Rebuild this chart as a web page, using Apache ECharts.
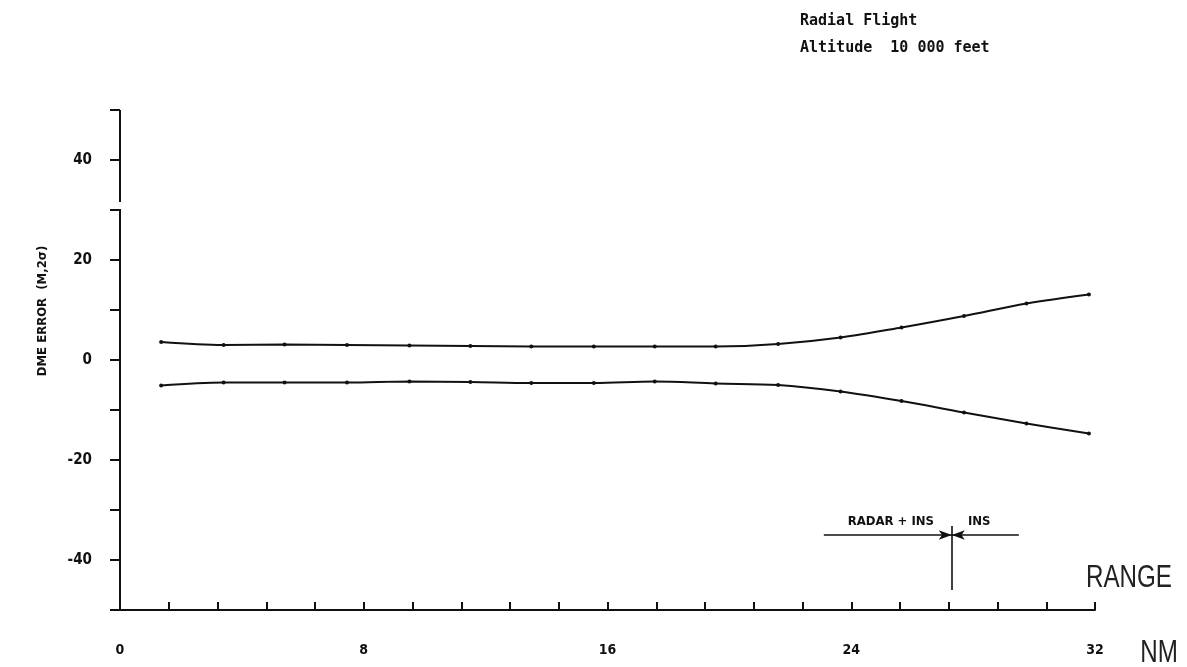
<!DOCTYPE html>
<html>
<head>
<meta charset="utf-8">
<script src="https://cdn.jsdelivr.net/npm/echarts@6/dist/echarts.min.js"></script>
<style>
html,body{margin:0;padding:0;background:#fff;}
#chart{width:1187px;height:667px;}
</style>
</head>
<body>
<div id="chart"></div>
<script>
// ---- data ----
const rangeNM    = [1.35, 3.4, 5.4, 7.45, 9.5, 11.5, 13.5, 15.55, 17.55, 19.55, 21.6, 23.65, 25.65, 27.7, 29.75, 31.8];
const upperError = [3.6, 3.0, 3.1, 3.0, 2.9, 2.8, 2.7, 2.7, 2.7, 2.7, 3.2, 4.5, 6.5, 8.8, 11.3, 13.1];
const lowerError = [-5.1, -4.5, -4.5, -4.5, -4.3, -4.4, -4.6, -4.6, -4.3, -4.7, -5.0, -6.3, -8.2, -10.5, -12.7, -14.7];
const xTickLabels = [0, 8, 16, 24, 32];
const yTickLabels = [-40, -20, 0, 20, 40];
const titleLines = ['Radial Flight', 'Altitude  10 000 feet'];
const yAxisTitle = 'DME ERROR  (M,2σ)';
const switchLabels = ['RADAR + INS', 'INS'];
const switchRange = 27.3;     // NM where RADAR+INS switches to INS
const switchSpan = [23.1, 29.5];
const switchLevel = -35;

const chart = echarts.init(document.getElementById('chart'), null, {renderer: 'canvas'});
const black = '#111';
const zip = (xs, ys) => xs.map((x, i) => [x, ys[i]]);
const smallLabel = {show: true, color: black, fontSize: 13, fontWeight: 'bold', fontFamily: 'DejaVu Sans Condensed', position: 'inside'};

const option = {
  backgroundColor: '#fff',
  animation: false,
  grid: {left: 120, right: 92, top: 110, bottom: 57, containLabel: false},
  xAxis: {
    type: 'value', min: 0, max: 32, interval: 1.6,
    axisLine: {onZero: false, lineStyle: {color: black, width: 2}},
    axisTick: {inside: true, length: 8, lineStyle: {color: black, width: 2}},
    splitLine: {show: false},
    axisLabel: {
      margin: 33, color: black, fontSize: 14, fontWeight: 'bold',
      fontFamily: 'DejaVu Sans Condensed',
      formatter: v => { const r = Math.round(v * 1000) / 1000; return xTickLabels.includes(r) ? String(r) : ''; }
    }
  },
  yAxis: {
    type: 'value', min: -50, max: 50, interval: 10,
    axisLine: {show: false, onZero: false},
    axisTick: {show: true, inside: false, length: 10, lineStyle: {color: black, width: 2}},
    splitLine: {show: false},
    axisLabel: {
      margin: 28, color: black, fontSize: 15, fontWeight: 'bold',
      fontFamily: 'DejaVu Sans Condensed',
      formatter: v => yTickLabels.includes(v) ? String(v) : ''
    }
  },
  series: [
    {
      type: 'line', data: zip(rangeNM, upperError), smooth: 0.35,
      symbol: 'circle', symbolSize: 4, itemStyle: {color: black},
      lineStyle: {color: black, width: 2},
      markLine: {
        silent: true, symbol: 'none', animation: false,
        lineStyle: {color: black, width: 2, type: 'solid'}, label: {show: false},
        data: [
          [{coord: [0, 50]}, {coord: [0, 31.6]}],
          [{coord: [0, 30.2]}, {coord: [0, -50]}]
        ]
      }
    },
    {
      type: 'line', data: zip(rangeNM, lowerError), smooth: 0.35,
      symbol: 'circle', symbolSize: 4, itemStyle: {color: black},
      lineStyle: {color: black, width: 2},
      markLine: {
        silent: true, animation: false,
        lineStyle: {color: black, width: 1.6, type: 'solid'}, label: {show: false},
        data: [
          [{coord: [switchSpan[0], switchLevel], symbol: 'none'}, {coord: [switchRange, switchLevel], symbol: 'arrow', symbolSize: [7, 13]}],
          [{coord: [switchSpan[1], switchLevel], symbol: 'none'}, {coord: [switchRange, switchLevel], symbol: 'arrow', symbolSize: [7, 13]}],
          [{coord: [switchRange, -33.2], symbol: 'none'}, {coord: [switchRange, -46], symbol: 'none'}]
        ]
      },
      markPoint: {
        silent: true, animation: false, symbol: 'rect', symbolSize: 1,
        itemStyle: {color: 'rgba(0,0,0,0)'},
        data: [
          {coord: [25.3, -32.3], label: Object.assign({}, smallLabel, {formatter: switchLabels[0]})},
          {coord: [28.2, -32.3], label: Object.assign({}, smallLabel, {formatter: switchLabels[1]})}
        ]
      }
    }
  ],
  graphic: [
    {type: 'text', left: 800, top: 14, style: {text: titleLines[0], fill: black, font: 'bold 15px "DejaVu Sans Mono"'}},
    {type: 'text', left: 800, top: 41, style: {text: titleLines[1], fill: black, font: 'bold 15px "DejaVu Sans Mono"'}},
    {type: 'text', x: 43, y: 311, rotation: Math.PI / 2, style: {text: yAxisTitle, fill: black, font: 'bold 13px "DejaVu Sans Condensed"', textAlign: 'center', textVerticalAlign: 'middle'}},
    {type: 'text', x: 1129, y: 578, scaleX: 0.78, style: {text: 'RANGE', fill: '#222', font: '31px "Liberation Sans"', textAlign: 'center', textVerticalAlign: 'middle'}},
    {type: 'text', x: 1159, y: 653, scaleX: 0.78, style: {text: 'NM', fill: '#222', font: '31px "Liberation Sans"', textAlign: 'center', textVerticalAlign: 'middle'}}
  ]
};
chart.setOption(option);
</script>
</body>
</html>
